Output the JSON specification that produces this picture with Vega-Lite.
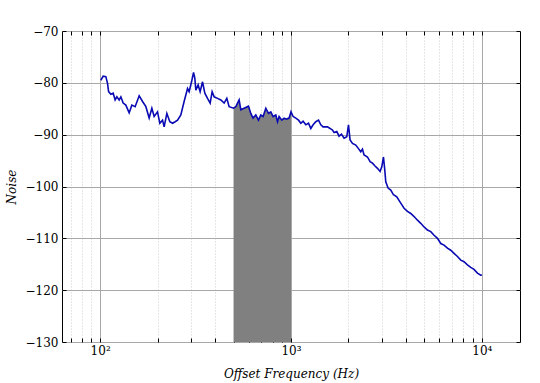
{
  "$schema": "https://vega.github.io/schema/vega-lite/v6.json",
  "width": 458,
  "height": 311,
  "autosize": {"type": "none"},
  "padding": {"left": 62, "top": 31, "right": 20, "bottom": 41},
  "config": {
    "view": {"stroke": "#000000", "strokeWidth": 1},
    "font": "DejaVu Serif",
    "axis": {"labelFont": "DejaVu Serif", "titleFont": "DejaVu Serif", "labelColor": "#000", "titleColor": "#000", "domain": false}
  },
  "data": {"values": [
    {"f": 100.8, "v": -79.5}, {"f": 103.7, "v": -78.7}, {"f": 107.1, "v": -78.8}, {"f": 109.3, "v": -80.1},
    {"f": 110.7, "v": -81.7}, {"f": 113.8, "v": -82.2}, {"f": 117.0, "v": -82.0}, {"f": 119.8, "v": -83.3},
    {"f": 122.3, "v": -82.7}, {"f": 125.8, "v": -83.3}, {"f": 128.4, "v": -82.7}, {"f": 132.0, "v": -83.9},
    {"f": 136.3, "v": -84.3}, {"f": 141.9, "v": -85.8}, {"f": 146.6, "v": -84.3}, {"f": 152.5, "v": -84.6},
    {"f": 160.1, "v": -82.5}, {"f": 166.8, "v": -83.6}, {"f": 173.6, "v": -84.6}, {"f": 180.6, "v": -86.8},
    {"f": 186.6, "v": -84.9}, {"f": 191.8, "v": -86.5}, {"f": 199.8, "v": -85.6}, {"f": 205.4, "v": -87.8},
    {"f": 212.3, "v": -87.2}, {"f": 216.4, "v": -88.5}, {"f": 223.6, "v": -85.9}, {"f": 231.8, "v": -87.5},
    {"f": 239.5, "v": -87.8}, {"f": 247.1, "v": -87.5}, {"f": 254.4, "v": -87.2}, {"f": 264.7, "v": -86.2},
    {"f": 275.4, "v": -83.6}, {"f": 287.0, "v": -81.1}, {"f": 292.6, "v": -81.7}, {"f": 301.2, "v": -79.8},
    {"f": 308.6, "v": -78.0}, {"f": 313.4, "v": -79.1}, {"f": 317.2, "v": -81.4}, {"f": 326.1, "v": -80.4},
    {"f": 334.1, "v": -81.7}, {"f": 343.9, "v": -79.8}, {"f": 353.6, "v": -82.0}, {"f": 365.3, "v": -83.0},
    {"f": 377.0, "v": -83.9}, {"f": 386.2, "v": -81.7}, {"f": 395.6, "v": -82.7}, {"f": 412.1, "v": -83.0},
    {"f": 428.8, "v": -83.3}, {"f": 446.3, "v": -83.9}, {"f": 461.0, "v": -83.0}, {"f": 474.0, "v": -84.6},
    {"f": 500.0, "v": -84.9}, {"f": 513.9, "v": -84.6}, {"f": 534.8, "v": -83.3}, {"f": 545.8, "v": -85.2},
    {"f": 567.9, "v": -84.9}, {"f": 598.9, "v": -84.5}, {"f": 615.7, "v": -85.9}, {"f": 633.0, "v": -86.8},
    {"f": 654.0, "v": -86.2}, {"f": 675.6, "v": -87.2}, {"f": 694.6, "v": -86.2}, {"f": 714.1, "v": -86.5},
    {"f": 737.9, "v": -84.9}, {"f": 762.3, "v": -85.9}, {"f": 783.8, "v": -85.6}, {"f": 805.8, "v": -86.5},
    {"f": 832.5, "v": -86.2}, {"f": 849.8, "v": -87.5}, {"f": 866.4, "v": -86.5}, {"f": 894.9, "v": -87.2},
    {"f": 920.0, "v": -86.8}, {"f": 947.0, "v": -87.0}, {"f": 977.2, "v": -86.8}, {"f": 1000, "v": -85.6},
    {"f": 1026, "v": -86.5}, {"f": 1060, "v": -86.8}, {"f": 1095, "v": -87.2}, {"f": 1126, "v": -87.8},
    {"f": 1157, "v": -87.4}, {"f": 1196, "v": -88.1}, {"f": 1235, "v": -87.8}, {"f": 1270, "v": -88.8},
    {"f": 1306, "v": -88.1}, {"f": 1349, "v": -87.5}, {"f": 1394, "v": -87.2}, {"f": 1433, "v": -88.1},
    {"f": 1473, "v": -88.5}, {"f": 1553, "v": -88.5}, {"f": 1602, "v": -88.8}, {"f": 1650, "v": -89.1},
    {"f": 1682, "v": -89.6}, {"f": 1738, "v": -89.4}, {"f": 1786, "v": -90.3}, {"f": 1839, "v": -89.9},
    {"f": 1897, "v": -90.7}, {"f": 1960, "v": -90.4}, {"f": 2001, "v": -88.1}, {"f": 2040, "v": -91.0},
    {"f": 2100, "v": -91.7}, {"f": 2185, "v": -92.0}, {"f": 2247, "v": -92.6}, {"f": 2321, "v": -93.3},
    {"f": 2369, "v": -92.8}, {"f": 2415, "v": -93.9}, {"f": 2516, "v": -94.3}, {"f": 2597, "v": -95.2},
    {"f": 2673, "v": -95.5}, {"f": 2748, "v": -96.0}, {"f": 2839, "v": -96.5}, {"f": 2929, "v": -97.1},
    {"f": 2990, "v": -96.2}, {"f": 3052, "v": -94.3}, {"f": 3100, "v": -96.8}, {"f": 3138, "v": -99.1},
    {"f": 3226, "v": -100.3}, {"f": 3333, "v": -100.7}, {"f": 3443, "v": -101.6}, {"f": 3583, "v": -102.0},
    {"f": 3760, "v": -103.2}, {"f": 3913, "v": -104.2}, {"f": 4077, "v": -104.8}, {"f": 4242, "v": -105.2},
    {"f": 4415, "v": -105.8}, {"f": 4600, "v": -106.5}, {"f": 4786, "v": -107.1}, {"f": 4980, "v": -107.8},
    {"f": 5188, "v": -108.4}, {"f": 5400, "v": -108.7}, {"f": 5619, "v": -109.4}, {"f": 5855, "v": -110.0},
    {"f": 6092, "v": -111.0}, {"f": 6339, "v": -111.3}, {"f": 6605, "v": -111.9}, {"f": 6874, "v": -112.3},
    {"f": 7153, "v": -112.9}, {"f": 7452, "v": -113.5}, {"f": 7754, "v": -114.2}, {"f": 8068, "v": -114.5},
    {"f": 8405, "v": -115.1}, {"f": 8745, "v": -115.6}, {"f": 9100, "v": -116.0}, {"f": 9483, "v": -116.7},
    {"f": 9867, "v": -117.1}, {"f": 10000, "v": -117.1}
  ]},
  "layer": [
    {
      "transform": [{"filter": "datum.f >= 500 && datum.f <= 1000"}],
      "mark": {"type": "area", "color": "#808080", "opacity": 1},
      "encoding": {
        "x": {"field": "f", "type": "quantitative",
          "scale": {"type": "log", "domain": [63.1, 15849], "nice": false},
          "axis": {"orient": "top", "labels": false, "title": null, "grid": false, "tickSize": -4, "tickColor": "#000",
            "values": [70,80,90,100,200,300,400,500,600,700,800,900,1000,2000,3000,4000,5000,6000,7000,8000,9000,10000]}},
        "y": {"field": "v", "type": "quantitative",
          "scale": {"domain": [-130, -70], "nice": false, "zero": false},
          "axis": {"orient": "right", "labels": false, "title": null, "grid": false, "tickSize": -4, "tickColor": "#000",
            "values": [-130,-120,-110,-100,-90,-80,-70]}},
        "y2": {"datum": -130}
      }
    },
    {
      "mark": {"type": "line", "color": "#0a0ab4", "strokeWidth": 1.6, "interpolate": "linear"},
      "encoding": {
        "x": {"field": "f", "type": "quantitative",
          "scale": {"type": "log", "domain": [63.1, 15849], "nice": false},
          "axis": {"orient": "bottom", "title": "Offset Frequency (Hz)", "titleFontStyle": "italic", "titleFontWeight": "normal", "titleFontSize": 12, "titlePadding": 12,
            "labelFontSize": 12, "labelPadding": 7, "tickSize": -4, "tickColor": "#000",
            "values": [70,80,90,100,200,300,400,500,600,700,800,900,1000,2000,3000,4000,5000,6000,7000,8000,9000,10000],
            "labelExpr": "datum.value == 100 ? '10²' : datum.value == 1000 ? '10³' : datum.value == 10000 ? '10⁴' : ''",
            "grid": true,
            "gridColor": {"condition": {"test": "datum.value == 100 || datum.value == 1000 || datum.value == 10000", "value": "#a8a8a8"}, "value": "#cfcfcf"},
            "gridDash": {"condition": {"test": "datum.value == 100 || datum.value == 1000 || datum.value == 10000", "value": []}, "value": [1, 2]},
            "gridWidth": 1}},
        "y": {"field": "v", "type": "quantitative",
          "scale": {"domain": [-130, -70], "nice": false, "zero": false},
          "axis": {"orient": "left", "title": "Noise", "titleFontStyle": "italic", "titleFontWeight": "normal", "titleFontSize": 12, "titlePadding": 7,
            "labelFontSize": 12, "labelPadding": 8, "tickSize": -4, "tickColor": "#000",
            "values": [-130,-120,-110,-100,-90,-80,-70],
            "grid": true, "gridColor": "#a8a8a8", "gridWidth": 1}}
      }
    }
  ]
}
